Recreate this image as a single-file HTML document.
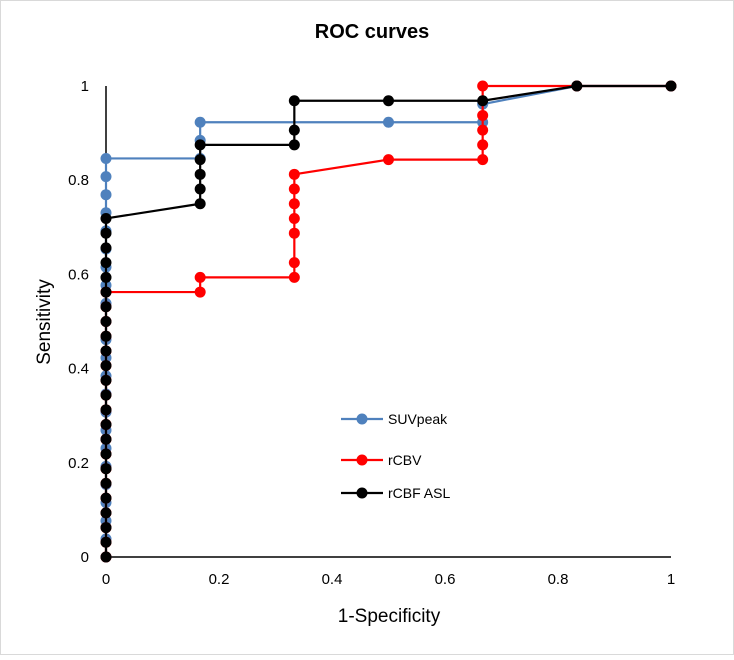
<!DOCTYPE html>
<html><head><meta charset="utf-8"><style>
body{margin:0;background:#fff;font-family:"Liberation Sans",sans-serif}
</style></head><body>
<svg id="chart" width="734" height="655" xmlns="http://www.w3.org/2000/svg">
<rect x="0.5" y="0.5" width="733" height="654" fill="#fff" stroke="#d9d9d9"/>
<text x="372" y="38" text-anchor="middle" font-size="20" font-weight="bold">ROC curves</text>
<text x="389" y="622" text-anchor="middle" font-size="19">1-Specificity</text>
<text transform="translate(50,322) rotate(-90)" text-anchor="middle" font-size="19">Sensitivity</text>
<g id="axes"></g><g id="series"></g><g id="legend"></g>
</svg>
<script>
const xTicks=[0,0.2,0.4,0.6,0.8,1];
const yTicks=[0,0.2,0.4,0.6,0.8,1];
const seriesNames=["SUVpeak","rCBV","rCBF ASL"];
const seriesColors=["#4f81bd","#ff0000","#000000"];
const p32=n=>n/32, p26=n=>n/26;
const blueX=[0,0,0,0,0,0,0,0,0,0,0,0,0,0,0,0,0,0,0,0,0,0,0,1/6,1/6,1/6,0.5,2/3,2/3,5/6,1];
const blueY=[0,1,2,3,4,5,6,7,8,9,10,11,12,13,14,15,16,17,18,19,20,21,22,22,23,24,24,24,25,26,26].map(p26);
const redX=[0,0,0,0,0,0,0,0,0,0,0,0,0,0,0,0,0,0,0,1/6,1/6,1/3,1/3,1/3,1/3,1/3,1/3,1/3,0.5,2/3,2/3,2/3,2/3,2/3,5/6,1];
const redY=[0,1,2,3,4,5,6,7,8,9,10,11,12,13,14,15,16,17,18,18,19,19,20,22,23,24,25,26,27,27,28,29,30,32,32,32].map(p32);
const blackX=[0,0,0,0,0,0,0,0,0,0,0,0,0,0,0,0,0,0,0,0,0,0,0,0,1/6,1/6,1/6,1/6,1/6,1/3,1/3,1/3,0.5,2/3,5/6,1];
const blackY=[0,1,2,3,4,5,6,7,8,9,10,11,12,13,14,15,16,17,18,19,20,21,22,23,24,25,26,27,28,28,29,31,31,31,32,32].map(p32);
const X=v=>106+v*565, Y=v=>557-v*471;
const NS="http://www.w3.org/2000/svg";
function mk(t,attrs,parent){const e=document.createElementNS(NS,t);for(const k in attrs)e.setAttribute(k,attrs[k]);parent.appendChild(e);return e;}
const axes=document.getElementById('axes');
let e=mk('line',{x1:X(0),y1:Y(0),x2:X(1),y2:Y(0),stroke:'#000','stroke-width':1.5},axes);


e=mk('line',{x1:X(0),y1:Y(0),x2:X(0),y2:Y(1),stroke:'#000','stroke-width':1.5},axes);


xTicks.forEach(t=>{const tx=mk('text',{x:X(t),y:584,'text-anchor':'middle','font-size':15},axes);tx.textContent=String(t);

});
yTicks.forEach(t=>{const tx=mk('text',{x:89,y:Y(t)+5,'text-anchor':'end','font-size':15},axes);tx.textContent=String(t);

});
const data=[[blueX,blueY],[redX,redY],[blackX,blackY]];
const sg=document.getElementById('series');
data.forEach((d,i)=>{
 const g=mk('g',{},sg);
 
 
 const pts=d[0].map((x,j)=>X(x)+','+Y(d[1][j])).join(' ');
 const pl=mk('polyline',{points:pts,fill:'none',stroke:seriesColors[i],'stroke-width':2.2},g);
 
 
 d[0].forEach((x,j)=>{const c=mk('circle',{cx:X(x),cy:Y(d[1][j]),r:5.5,fill:seriesColors[i]},g);
 
 });
});
const lg=document.getElementById('legend');
const ly=[419,460,493];
seriesNames.forEach((n,i)=>{
 const g=mk('g',{},lg);
 
 
 mk('line',{x1:341,y1:ly[i],x2:383,y2:ly[i],stroke:seriesColors[i],'stroke-width':2.2},g);
 mk('circle',{cx:362,cy:ly[i],r:5.5,fill:seriesColors[i]},g);
 const t=mk('text',{x:388,y:ly[i]+5,'font-size':14},g);t.textContent=n;
});
</script>
</body></html>
